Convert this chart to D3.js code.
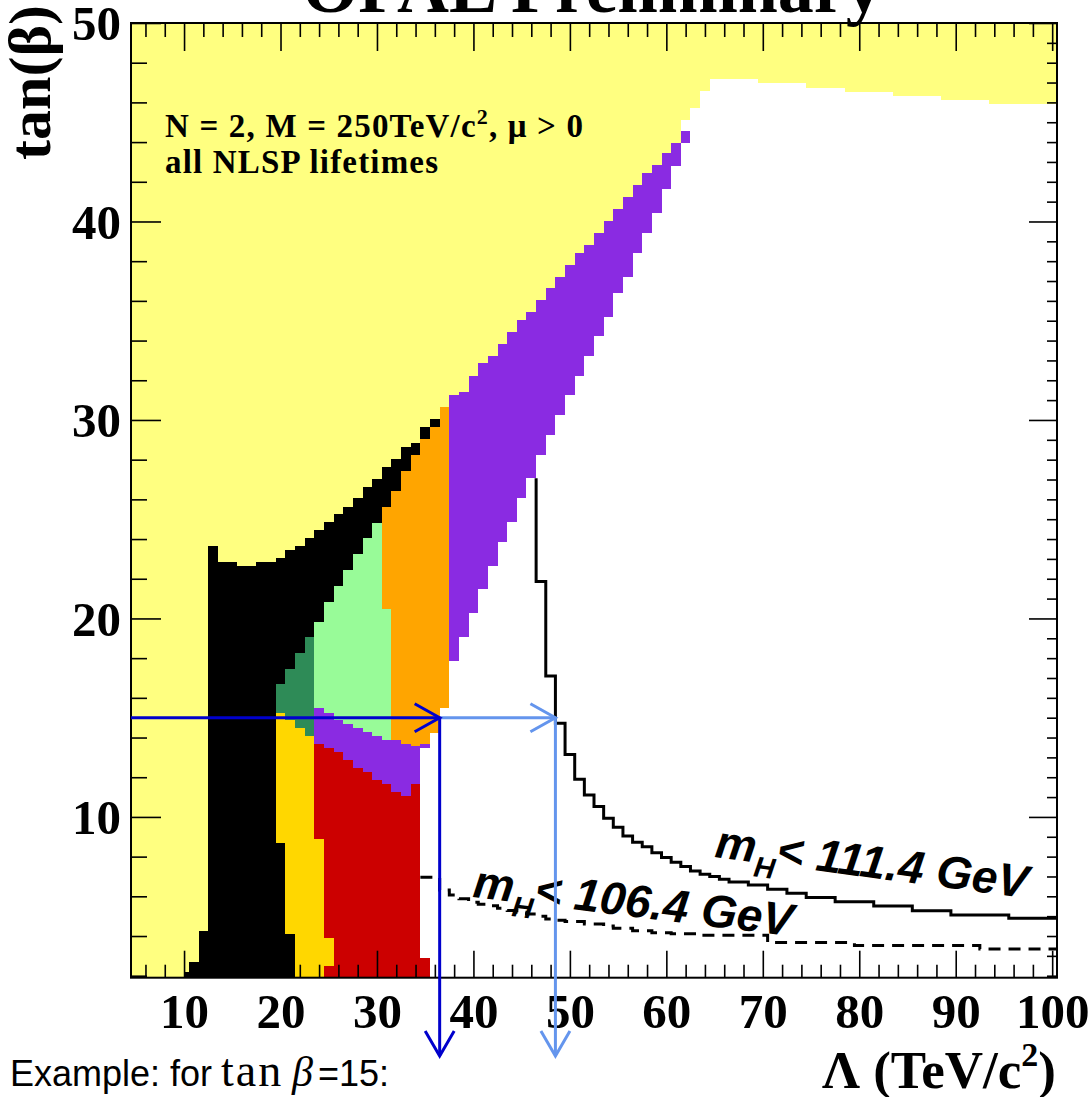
<!DOCTYPE html>
<html>
<head>
<meta charset="utf-8">
<script src="https://cdn.jsdelivr.net/npm/d3@7"></script>
<style>
  html, body { margin: 0; padding: 0; background: #ffffff; }
  svg { display: block; }
</style>
</head>
<body>
<svg id="chart" width="1092" height="1097"></svg>
<script>
// ---------------------------------------------------------------
// GMSB scan, N = 2, M = 250 TeV/c^2, mu > 0 : tan(beta) vs Lambda
// Each cell: [Lambda from, Lambda to, tanBeta low, tanBeta high]
// ---------------------------------------------------------------

const xMajor = [10, 20, 30, 40, 50, 60, 70, 80, 90, 100];
const yMajor = [10, 20, 30, 40, 50];

// allowed (white) area below the theoretically excluded band
const whiteCells = [
  [34.5, 35.5, 1.9, 29.66], [35.5, 36.5, 1.9, 30.03], [36.5, 37.5, 1.9, 30.64],
  [37.5, 38.5, 1.9, 31.26], [38.5, 39.5, 1.9, 31.43], [39.5, 40.5, 1.9, 32.23],
  [40.5, 41.5, 1.9, 32.86], [41.5, 42.5, 1.9, 33.24], [42.5, 43.5, 1.9, 33.83],
  [43.5, 44.5, 1.9, 34.45], [44.5, 45.5, 1.9, 35.04], [45.5, 46.5, 1.9, 35.46],
  [46.5, 47.5, 1.9, 36.05], [47.5, 48.5, 1.9, 36.63], [48.5, 49.5, 1.9, 37.22],
  [49.5, 50.5, 1.9, 37.81], [50.5, 51.5, 1.9, 38.43], [51.5, 52.5, 1.9, 38.82],
  [52.5, 53.5, 1.9, 39.40], [53.5, 54.5, 1.9, 40.03], [54.5, 55.5, 1.9, 40.61],
  [55.5, 56.5, 1.9, 41.22], [56.5, 57.5, 1.9, 41.84], [57.5, 58.5, 1.9, 42.43],
  [58.5, 59.5, 1.9, 42.85], [59.5, 60.5, 1.9, 43.44], [60.5, 61.5, 1.9, 43.95],
  [61.5, 62.5, 1.9, 45.09], [62.5, 63.5, 1.9, 45.72], [63.5, 64.5, 1.9, 46.58],
  [64.5, 69.5, 1.9, 47.16], [69.5, 74.5, 1.9, 46.97], [74.5, 78.5, 1.9, 46.75],
  [78.5, 83.5, 1.9, 46.54], [83.5, 88.5, 1.9, 46.32], [88.5, 93.5, 1.9, 46.13],
  [93.5, 100.5, 1.9, 45.94]
];

const blackCells = [
  [10.0, 10.5, 1.9, 2.20], [10.5, 11.5, 1.9, 2.67], [11.5, 12.5, 1.9, 4.27],
  [12.5, 13.5, 1.9, 23.65], [13.5, 15.5, 1.9, 22.86], [15.5, 17.5, 1.9, 22.66],
  [17.5, 19.5, 1.9, 22.86], [19.5, 20.5, 1.9, 23.06], [20.5, 21.5, 1.9, 23.45],
  [21.5, 22.5, 18.26, 23.65], [22.5, 23.5, 19.05, 24.04], [23.5, 24.5, 19.84, 24.46],
  [24.5, 25.5, 20.85, 24.85], [25.5, 26.5, 21.64, 25.25], [26.5, 27.5, 22.44, 25.63],
  [27.5, 28.5, 23.25, 26.05], [28.5, 29.5, 24.04, 26.64], [29.5, 30.5, 24.83, 27.04],
  [30.5, 31.5, 25.63, 27.65], [31.5, 32.5, 26.44, 28.02], [32.5, 33.5, 27.45, 28.64],
  [33.5, 34.5, 28.24, 28.83], [34.5, 35.5, 29.03, 29.66], [35.5, 36.5, 29.66, 30.03]
];

const redCells = [
  [23.5, 24.5, 8.88, 13.68], [24.5, 25.5, 1.9, 13.48], [25.5, 26.5, 1.9, 13.26],
  [26.5, 27.5, 1.9, 12.87], [27.5, 28.5, 1.9, 12.47], [28.5, 29.5, 1.9, 12.28],
  [29.5, 30.5, 1.9, 11.86], [30.5, 31.5, 1.9, 11.64], [31.5, 32.5, 1.9, 11.28],
  [32.5, 33.5, 1.9, 11.07], [33.5, 34.5, 1.9, 11.66], [34.5, 35.5, 1.9, 2.88]
];

const goldCells = [
  [19.5, 20.5, 8.67, 15.25], [20.5, 21.5, 4.09, 14.89], [21.5, 22.5, 1.9, 14.47],
  [22.5, 23.5, 1.9, 14.08], [23.5, 24.5, 1.9, 8.88], [24.5, 25.5, 2.49, 3.89]
];

const seaGreenCells = [
  [19.5, 20.5, 15.25, 16.69], [20.5, 21.5, 14.89, 17.46],
  [21.5, 22.5, 14.47, 18.26], [22.5, 23.5, 14.08, 19.05]
];

const paleGreenCells = [
  [23.5, 24.5, 15.47, 19.84], [24.5, 25.5, 15.25, 20.85], [25.5, 26.5, 14.89, 21.64],
  [26.5, 27.5, 14.67, 22.44], [27.5, 28.5, 14.47, 23.25], [28.5, 29.5, 14.27, 24.04],
  [29.5, 30.5, 14.08, 24.83], [30.5, 31.5, 13.88, 20.46]
];

const violetLowCells = [
  [23.5, 24.5, 13.68, 15.47], [24.5, 25.5, 13.48, 15.25], [25.5, 26.5, 13.26, 14.89],
  [26.5, 27.5, 12.87, 14.67], [27.5, 28.5, 12.47, 14.47], [28.5, 29.5, 12.28, 14.27],
  [29.5, 30.5, 11.86, 14.08], [30.5, 31.5, 11.64, 13.88], [31.5, 32.5, 11.28, 13.88],
  [32.5, 33.5, 11.07, 13.68], [33.5, 34.5, 11.66, 13.55], [34.5, 35.5, 13.45, 13.65]
];

const orangeCells = [
  [30.5, 31.5, 20.46, 25.63], [31.5, 32.5, 13.88, 26.44], [32.5, 33.5, 13.68, 27.45],
  [33.5, 34.5, 13.55, 28.24], [34.5, 35.5, 13.65, 29.03], [35.5, 36.5, 14.25, 29.66],
  [36.5, 37.5, 15.47, 30.64]
];

const violetBandCells = [
  [37.5, 38.5, 17.86, 31.26], [38.5, 39.5, 19.05, 31.43], [39.5, 40.5, 20.26, 32.23],
  [40.5, 41.5, 21.47, 32.86], [41.5, 42.5, 22.64, 33.24], [42.5, 43.5, 23.87, 33.83],
  [43.5, 44.5, 24.85, 34.45], [44.5, 45.5, 26.05, 35.04], [45.5, 46.5, 27.06, 35.46],
  [46.5, 47.5, 28.24, 36.05], [47.5, 48.5, 29.24, 36.63], [48.5, 49.5, 30.25, 37.22],
  [49.5, 50.5, 31.26, 37.81], [50.5, 51.5, 32.23, 38.43], [51.5, 52.5, 33.24, 38.82],
  [52.5, 53.5, 34.23, 39.40], [53.5, 54.5, 35.20, 40.03], [54.5, 55.5, 36.41, 40.61],
  [55.5, 56.5, 37.22, 41.22], [56.5, 57.5, 38.40, 41.84], [57.5, 58.5, 39.40, 42.43],
  [58.5, 59.5, 40.41, 42.85], [59.5, 60.5, 41.62, 43.44], [60.5, 61.5, 42.80, 43.95],
  [61.5, 62.5, 43.95, 44.55]
];

// Higgs mass contours, [Lambda where the step starts, tanBeta]
const higgs111 = [
  [46.5, 27.06], [46.5, 21.86], [47.5, 17.10], [48.5, 14.72], [49.5, 13.15],
  [50.5, 11.90], [51.5, 11.11], [52.5, 10.52], [53.5, 9.93], [54.5, 9.48],
  [55.5, 9.04], [56.5, 8.73], [57.5, 8.50], [58.5, 8.20], [59.5, 7.95],
  [60.5, 7.72], [61.5, 7.50], [62.5, 7.28], [63.5, 7.11], [64.5, 7.00],
  [65.5, 6.86], [66.5, 6.72], [68.5, 6.57], [70.5, 6.36], [72.5, 6.16],
  [74.5, 5.94], [77.5, 5.73], [81.5, 5.51], [85.5, 5.27], [89.5, 5.06],
  [95.5, 4.90], [100.5, 4.90]
];

const higgs106 = [
  [34.5, 6.96], [36.5, 6.32], [37.5, 6.07], [38.5, 5.88], [39.5, 5.70],
  [40.5, 5.60], [41.5, 5.53], [42.5, 5.40], [43.5, 5.28], [44.5, 5.20],
  [45.5, 5.11], [46.5, 5.00], [47.5, 4.86], [48.5, 4.80], [49.5, 4.73],
  [51.5, 4.61], [53.5, 4.50], [54.5, 4.39], [56.5, 4.27], [58.5, 4.17],
  [60.5, 4.12], [63.5, 4.04], [70.5, 3.67], [79.5, 3.52], [92.5, 3.34],
  [100.5, 3.34]
];

// worked example: tanBeta = 15
const exampleTanBeta = 15;
const exampleLimitExcl = 36.5;   // edge of the excluded area
const exampleLimitHiggs = 48.5;  // m_H < 111.4 GeV contour

// ---------------------------------------------------------------
const svg = d3.select("#chart");
const frame = { l: 131, r: 1057, t: 23, b: 977.7 };

const x = d3.scaleLinear().domain([4.5, 100.5]).range([frame.l, frame.r]);
const y = d3.scaleLinear().domain([1.9, 50]).range([frame.b, frame.t]);

const serif = "'Liberation Serif', 'Times New Roman', serif";
const sans = "'Liberation Sans', Arial, Helvetica, sans-serif";

svg.append("defs").append("clipPath").attr("id", "plotClip")
  .append("rect")
  .attr("x", frame.l).attr("y", frame.t)
  .attr("width", frame.r - frame.l).attr("height", frame.b - frame.t);

const plot = svg.append("g").attr("clip-path", "url(#plotClip)");

// theoretically excluded background
plot.append("rect")
  .attr("x", x(x.domain()[0])).attr("y", y(y.domain()[1]))
  .attr("width", x(x.domain()[1]) - x(x.domain()[0]))
  .attr("height", y(y.domain()[0]) - y(y.domain()[1]))
  .attr("fill", "#ffff80");

function cellsPath(cells) {
  const p = d3.path();
  for (const [a, b, lo, hi] of cells) {
    p.rect(x(a), y(hi), x(b) - x(a), y(lo) - y(hi));
  }
  return p.toString();
}

const layers = [
  { cells: whiteCells, color: "#ffffff" },
  { cells: blackCells, color: "#000000" },
  { cells: redCells, color: "#cc0000" },
  { cells: goldCells, color: "#ffd700" },
  { cells: seaGreenCells, color: "#2e8b57" },
  { cells: paleGreenCells, color: "#98fb98" },
  { cells: violetLowCells, color: "#8a2be2" },
  { cells: orangeCells, color: "#ffa500" },
  { cells: violetBandCells, color: "#8a2be2" }
];

plot.selectAll("path.region").data(layers).join("path")
  .attr("class", "region")
  .attr("d", d => cellsPath(d.cells))
  .attr("fill", d => d.color)
  .attr("shape-rendering", "crispEdges");

// Higgs mass contours
const stepLine = d3.line()
  .x(d => x(d[0])).y(d => y(d[1]))
  .curve(d3.curveStepAfter);

plot.append("path").attr("d", stepLine(higgs111))
  .attr("fill", "none").attr("stroke", "#000").attr("stroke-width", 3);

plot.append("path").attr("d", stepLine(higgs106))
  .attr("fill", "none").attr("stroke", "#000").attr("stroke-width", 3)
  .attr("stroke-dasharray", "12,8");

// ---------------- axes (ticks pointing inwards) ----------------
function range2(a, b, s) { const r = []; for (let v = a; v <= b + 1e-9; v += s) r.push(v); return r; }
const xMinor = range2(6, 100, 2).filter(v => v % 10 !== 0);
const yMinorLeft = range2(2, 50, 2).filter(v => v % 10 !== 0);
const yMinorRight = range2(2, 50, 1).filter(v => v % 10 !== 0);

function styleAxis(g) {
  g.select(".domain").remove();
  g.selectAll(".tick line").attr("stroke", "#000").attr("stroke-width", 1.6);
}

// bottom
svg.append("g").attr("transform", `translate(0,${frame.b})`)
  .call(d3.axisBottom(x).tickValues(xMinor).tickSize(-13).tickFormat(""))
  .call(styleAxis);
const xAx = svg.append("g").attr("transform", `translate(0,${frame.b})`)
  .call(d3.axisBottom(x).tickValues(xMajor).tickSize(-27).tickFormat(d3.format("d")))
  .call(styleAxis);
xAx.selectAll("text")
  .attr("y", 50).attr("dy", null)
  .attr("fill", "#000")
  .style("font-family", serif).style("font-weight", "bold").style("font-size", "49px");

// top
svg.append("g").attr("transform", `translate(0,${frame.t})`)
  .call(d3.axisTop(x).tickValues(xMinor).tickSize(-14).tickFormat(""))
  .call(styleAxis);
svg.append("g").attr("transform", `translate(0,${frame.t})`)
  .call(d3.axisTop(x).tickValues(xMajor).tickSize(-28).tickFormat(""))
  .call(styleAxis);

// left
svg.append("g").attr("transform", `translate(${frame.l},0)`)
  .call(d3.axisLeft(y).tickValues(yMinorLeft).tickSize(-16).tickFormat(""))
  .call(styleAxis);
const yAx = svg.append("g").attr("transform", `translate(${frame.l},0)`)
  .call(d3.axisLeft(y).tickValues(yMajor).tickSize(-30).tickFormat(d3.format("d")))
  .call(styleAxis);
yAx.selectAll("text")
  .attr("x", -10).attr("dy", "0.34em")
  .attr("fill", "#000")
  .style("font-family", serif).style("font-weight", "bold").style("font-size", "49px");

// right
svg.append("g").attr("transform", `translate(${frame.r},0)`)
  .call(d3.axisRight(y).tickValues(yMinorRight).tickSize(-10).tickFormat(""))
  .call(styleAxis);
svg.append("g").attr("transform", `translate(${frame.r},0)`)
  .call(d3.axisRight(y).tickValues(yMajor).tickSize(-28).tickFormat(""))
  .call(styleAxis);

// frame
svg.append("rect")
  .attr("x", frame.l).attr("y", frame.t)
  .attr("width", frame.r - frame.l).attr("height", frame.b - frame.t)
  .attr("fill", "none").attr("stroke", "#000").attr("stroke-width", 2);

// ---------------- titles and labels ----------------
svg.append("text")
  .attr("x", 592).attr("y", 12).attr("text-anchor", "middle")
  .style("font-family", serif).style("font-weight", "bold").style("font-size", "72px")
  .text("OPAL Preliminary");

svg.append("text")
  .attr("transform", "translate(50,5) rotate(-90)")
  .attr("text-anchor", "end")
  .style("font-family", serif).style("font-weight", "bold").style("font-size", "60px")
  .text("tan(β)");

const xt = svg.append("text")
  .attr("x", 1056).attr("y", 1088).attr("text-anchor", "end")
  .style("font-family", serif).style("font-weight", "bold").style("font-size", "53px");
xt.append("tspan").text("Λ (TeV/c");
xt.append("tspan").attr("dy", -22).style("font-size", "34px").text("2");
xt.append("tspan").attr("dy", 22).text(")");

const note1 = svg.append("text")
  .attr("x", 165).attr("y", 137)
  .attr("textLength", 418).attr("lengthAdjust", "spacing")
  .style("font-family", serif).style("font-weight", "bold").style("font-size", "33px");
note1.append("tspan").text("N = 2, M = 250TeV/c");
note1.append("tspan").attr("dy", -13).style("font-size", "22px").text("2");
note1.append("tspan").attr("dy", 13).text(", μ > 0");

svg.append("text")
  .attr("x", 165).attr("y", 173)
  .attr("textLength", 273).attr("lengthAdjust", "spacing")
  .style("font-family", serif).style("font-weight", "bold").style("font-size", "33px")
  .text("all NLSP lifetimes");

function higgsLabel(px, py, angle, value) {
  const t = svg.append("text")
    .attr("transform", `translate(${px},${py}) rotate(${angle})`)
    .style("font-family", sans).style("font-weight", "bold")
    .style("font-style", "italic").style("font-size", "46px");
  t.append("tspan").text("m");
  t.append("tspan").attr("dy", 14).style("font-size", "29px").text("H");
  t.append("tspan").attr("dy", -14).text(`< ${value} GeV`);
}
higgsLabel(714, 857, 7.5, "111.4");
higgsLabel(472, 897, 7, "106.4");

// ---------------- worked example arrows ----------------
function arrowHead(tipX, tipY, dir, color) {
  // open chevron head, dir = "right" | "down"
  const pts = dir === "right"
    ? [[tipX - 25, tipY - 14], [tipX, tipY], [tipX - 25, tipY + 14]]
    : [[tipX - 14.5, tipY - 25], [tipX, tipY], [tipX + 14.5, tipY - 25]];
  svg.append("path").attr("d", d3.line()(pts))
    .attr("fill", "none").attr("stroke", color).attr("stroke-width", 3);
}
const yEx = y(exampleTanBeta);
const xExcl = x(exampleLimitExcl);
const xHiggs = x(exampleLimitHiggs);
const arrowBottom = 1056;
const darkBlue = "#0000cc", lightBlue = "#6495ed";

svg.append("path").attr("d", d3.line()([[x(x.domain()[0]), yEx], [xExcl, yEx]]))
  .attr("stroke", darkBlue).attr("stroke-width", 3);
svg.append("path").attr("d", d3.line()([[xExcl, yEx], [xHiggs, yEx]]))
  .attr("stroke", lightBlue).attr("stroke-width", 3);
arrowHead(xHiggs, yEx, "right", lightBlue);
svg.append("path").attr("d", d3.line()([[xHiggs, yEx], [xHiggs, arrowBottom]]))
  .attr("stroke", lightBlue).attr("stroke-width", 3);
arrowHead(xHiggs, arrowBottom, "down", lightBlue);
arrowHead(xExcl, yEx, "right", darkBlue);
svg.append("path").attr("d", d3.line()([[xExcl, yEx], [xExcl, arrowBottom]]))
  .attr("stroke", darkBlue).attr("stroke-width", 3);
arrowHead(xExcl, arrowBottom, "down", darkBlue);

// caption below the axis: sans text with a math-set "tan β"
const capY = 1086;
svg.append("text")
  .attr("x", 10).attr("y", capY)
  .style("font-family", sans).style("font-size", "36px")
  .text("Example: for");
svg.append("text")
  .attr("x", 221).attr("y", capY)
  .style("font-family", serif).style("font-size", "46px")
  .style("letter-spacing", "2px")
  .text("tan");
svg.append("text")
  .attr("x", 292).attr("y", capY)
  .style("font-family", serif).style("font-style", "italic").style("font-size", "42px")
  .text("β");
svg.append("text")
  .attr("x", 318).attr("y", capY)
  .style("font-family", sans).style("font-size", "36px")
  .text("=15:");
</script>
</body>
</html>
